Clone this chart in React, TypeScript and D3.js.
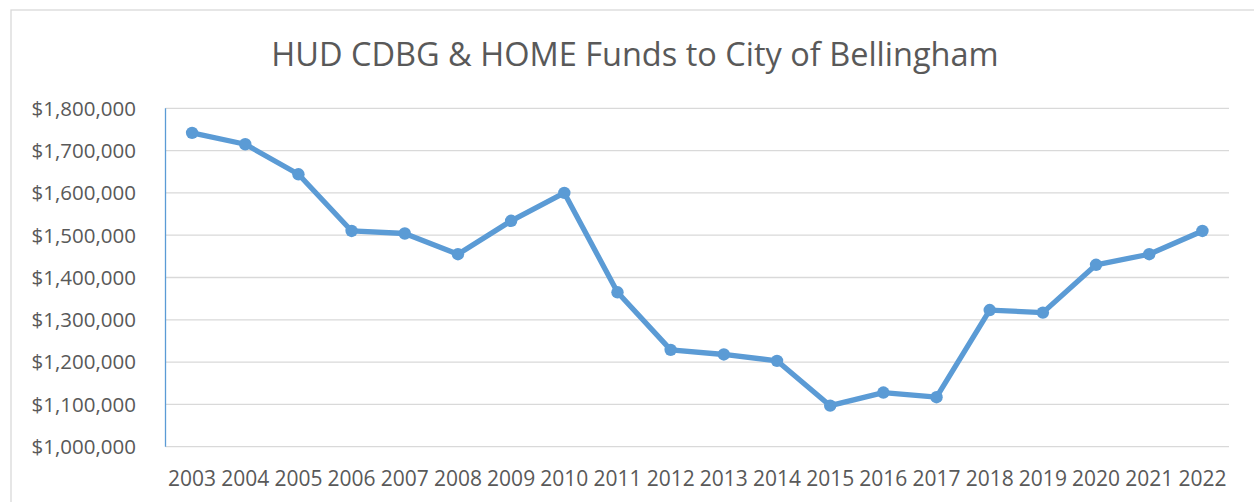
import React from "react";
import * as d3 from "d3";

const years = ["2003","2004","2005","2006","2007","2008","2009","2010","2011","2012","2013","2014","2015","2016","2017","2018","2019","2020","2021","2022"];
const funds = [1742000,1715000,1644000,1510000,1504000,1455000,1534000,1600000,1365000,1229000,1218000,1203000,1097000,1128000,1117000,1323000,1317000,1430000,1455000,1510000];
const yTicks = [1000000,1100000,1200000,1300000,1400000,1500000,1600000,1700000,1800000];
const title = "HUD CDBG & HOME Funds to City of Bellingham";

const W = 1254, H = 502;
const left = 165.5, right = 1229, top = 108.3, bottom = 446.7;
const FONT = "'Open Sans', sans-serif";
const TEXT = "#595959";
const BLUE = "#5B9BD5";

export default function App() {
  const x = d3.scaleBand<string>().domain(years).range([left, right]).padding(0);
  const y = d3.scaleLinear().domain([1000000, 1800000]).range([bottom, top]);
  const fmt = (v: number) => "$" + d3.format(",")(v);
  const line = d3.line<number>()
    .x((_, i) => (x(years[i]) as number) + x.bandwidth() / 2)
    .y((d) => y(d));

  return (
    <svg width={W} height={H} style={{ position: "absolute", left: 0, top: 0, background: "#fff" }}>
      <rect x={0} y={0} width={W} height={H} fill="#fff" />
      <rect x={11} y={10} width={W + 10} height={H + 10} fill="none" stroke="#d9d9d9" strokeWidth={1.3} />
      <text x={635} y={66} textAnchor="middle" fontFamily={FONT} fontSize={32.5} fill={TEXT}>{title}</text>
      {yTicks.map((t) => (
        <g key={t}>
          <line x1={left} x2={right} y1={y(t)} y2={y(t)} stroke="#d9d9d9" strokeWidth={1.3} />
          <text x={136} y={y(t)} dy="0.36em" textAnchor="end" fontFamily={FONT} fontSize={20.5} fill={TEXT}>{fmt(t)}</text>
        </g>
      ))}
      <line x1={left} x2={left} y1={top} y2={bottom} stroke={BLUE} strokeWidth={1.3} />
      {years.map((yr) => (
        <text key={yr} x={(x(yr) as number) + x.bandwidth() / 2} y={485.5} textAnchor="middle" fontFamily={FONT} fontSize={21} fill={TEXT}>{yr}</text>
      ))}
      <path d={line(funds) || ""} fill="none" stroke={BLUE} strokeWidth={5.3} strokeLinejoin="round" strokeLinecap="round" />
      {funds.map((v, i) => (
        <circle key={i} cx={(x(years[i]) as number) + x.bandwidth() / 2} cy={y(v)} r={6.2} fill={BLUE} />
      ))}
    </svg>
  );
}
